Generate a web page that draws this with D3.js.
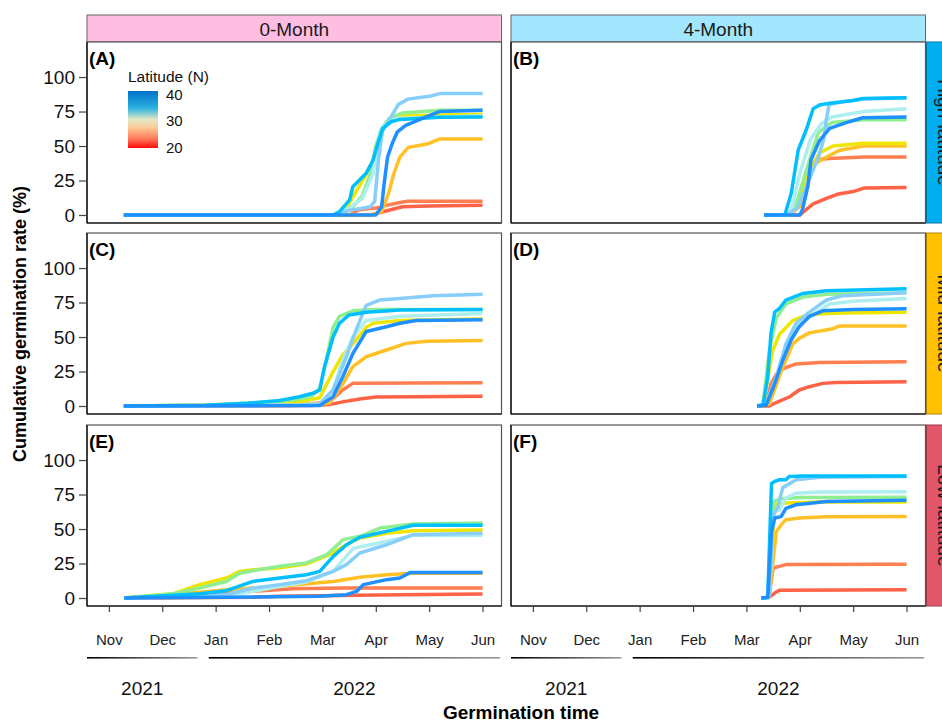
<!DOCTYPE html>
<html>
<head>
<meta charset="utf-8">
<script src="https://cdn.jsdelivr.net/npm/d3@7"></script>
<style>
  body { margin: 0; background: #fff; }
  svg { font-family: "Liberation Sans", Arial, sans-serif; }
</style>
</head>
<body>
<svg id="chart" width="942" height="722"></svg>
<script>
// populations, ordered by latitude (low -> high)
const popColors = ["#FF6347", "#FF7F50", "#FFC125", "#EEE600", "#90EE90", "#AFEEEE", "#87CEFA", "#00BFFF", "#1E90FF"];

// x positions are month index: 0 = Nov 2021 ... 7 = Jun 2022
const months = ["Nov", "Dec", "Jan", "Feb", "Mar", "Apr", "May", "Jun"];
const yTicks = [0, 25, 50, 75, 100];
const years = [
  { label: "2021", from: -0.41, to: 1.66 },
  { label: "2022", from: 1.87, to: 7.33 },
];
const storage = ["0-Month", "4-Month"];
const regions = ["High-latitude", "Mid-latitude", "Low-latitude"];
const regionColors = ["#00AEEF", "#FFC000", "#E2566A"];
const storageColors = ["#FFBDE1", "#A3E7FF"];

// (A) 0-Month, high latitude
const panelA = [
  [[0.28, 0], [4.9, 0], [5.1, 2], [5.3, 4], [5.5, 6], [6.0, 6.5], [7, 7]],
  [[0.28, 0], [4.5, 0], [4.7, 4], [5.0, 5], [5.2, 7], [5.45, 9], [5.6, 10], [7, 10]],
  [[0.28, 0], [4.9, 0], [5.11, 2.4], [5.24, 15.7], [5.33, 29], [5.45, 42], [5.61, 49], [5.96, 51.4], [6.19, 55], [7, 55]],
  [[0.28, 0], [4.3, 0], [4.45, 5], [4.6, 15], [4.8, 28], [4.95, 40], [5.05, 55], [5.15, 65], [5.3, 70], [5.6, 72], [7, 73]],
  [[0.28, 0], [4.35, 0], [4.55, 5], [4.75, 14], [4.9, 30], [5.0, 50], [5.1, 62], [5.25, 70], [5.5, 74], [6.2, 76], [7, 76]],
  [[0.28, 0], [4.2, 0], [4.5, 5], [4.75, 12], [4.95, 30], [5.05, 55], [5.15, 65], [5.4, 70], [7, 72]],
  [[0.28, 0], [4.2, 0], [4.45, 3], [4.9, 6], [4.98, 10], [5.05, 40], [5.12, 60], [5.3, 72], [5.42, 80], [5.6, 84], [6.0, 86], [6.2, 88], [7, 88]],
  [[0.28, 0], [4.2, 0], [4.32, 2.4], [4.51, 10.9], [4.57, 20.5], [4.82, 30.2], [4.95, 39.9], [5.04, 52], [5.13, 62.8], [5.29, 67.6], [5.45, 69.3], [6.19, 70.8], [7, 71]],
  [[0.28, 0], [5.0, 0], [5.11, 6], [5.15, 20.5], [5.22, 42], [5.31, 52], [5.4, 60], [5.56, 65], [5.93, 71], [6.19, 75], [7, 76]],
];

// (B) 4-Month, high latitude
const panelB = [
  [[4.33, 0], [5.0, 0], [5.25, 8], [5.5, 12], [5.7, 15], [6.0, 17], [6.2, 19.5], [7, 20]],
  [[4.33, 0], [4.8, 0], [5.0, 10], [5.12, 30], [5.3, 40], [5.55, 41], [6.2, 42], [7, 42]],
  [[4.33, 0], [4.8, 0], [5.0, 6], [5.12, 20], [5.28, 37], [5.5, 42], [5.75, 47], [6.2, 50], [7, 50]],
  [[4.33, 0], [4.8, 0], [4.95, 8], [5.12, 28], [5.37, 45], [5.62, 50], [6.2, 52], [7, 52]],
  [[4.33, 0], [4.8, 0], [4.95, 10], [5.12, 32], [5.35, 60], [5.6, 67], [6.2, 69], [7, 69]],
  [[4.33, 0], [4.78, 0], [4.85, 5], [5.0, 30], [5.2, 55], [5.4, 66], [5.6, 71], [6.2, 75], [7, 77]],
  [[4.33, 0], [4.75, 0], [4.95, 5], [5.1, 18], [5.22, 30], [5.35, 42], [5.45, 55], [5.5, 70], [5.55, 80], [5.8, 82], [6.2, 84], [7, 85]],
  [[4.33, 0], [4.72, 0], [4.84, 15.7], [4.97, 47], [5.12, 61.6], [5.25, 77], [5.37, 79.7], [5.56, 81], [6.0, 83], [6.18, 84.5], [7, 85]],
  [[4.33, 0], [5.0, 0], [5.05, 4], [5.15, 20.5], [5.21, 40], [5.37, 54], [5.56, 62.8], [5.87, 67], [6.18, 70.5], [7, 71]],
];

// (C) 0-Month, mid latitude
const panelC = [
  [[0.28, 0], [3.8, 0.3], [4.13, 1], [4.38, 3], [4.7, 5], [5.0, 6.5], [7, 7]],
  [[0.28, 0], [3.57, 0.5], [4.13, 3], [4.38, 11.6], [4.57, 16.4], [7, 16.8]],
  [[0.28, 0], [2.5, 0.5], [3.57, 1], [4.13, 2], [4.38, 16], [4.57, 28.5], [4.82, 35.7], [5.2, 40.6], [5.57, 45.4], [5.95, 47], [7, 47.5]],
  [[0.28, 0], [1.8, 0.5], [2.6, 2], [3.2, 2.5], [3.57, 3], [3.95, 6], [4.2, 25], [4.38, 37], [4.57, 45], [4.82, 57], [4.95, 60], [5.45, 62], [7, 63]],
  [[0.28, 0], [1.8, 0.5], [2.6, 2], [3.2, 3.5], [3.57, 5], [3.8, 7], [3.95, 13], [4.07, 33], [4.2, 57], [4.32, 65], [4.57, 69], [5.0, 70], [7, 70]],
  [[0.28, 0], [2.5, 0.3], [3.57, 0.7], [3.95, 1.5], [4.2, 11.6], [4.38, 33], [4.57, 50], [4.82, 62], [5.45, 65], [7, 67]],
  [[0.28, 0], [2.5, 0.3], [3.57, 0.8], [3.95, 1.5], [4.2, 11.6], [4.45, 35.7], [4.63, 55], [4.82, 73], [5.07, 76.8], [5.45, 78], [6.07, 80], [7, 81]],
  [[0.28, 0], [1.8, 0.5], [2.6, 2], [3.2, 4], [3.57, 6.7], [3.82, 9.2], [3.95, 11.6], [4.04, 28.5], [4.2, 50], [4.32, 60], [4.5, 66], [4.82, 68], [5.45, 69.6], [7, 70]],
  [[0.28, 0], [3.95, 0.3], [4.2, 6.7], [4.38, 21], [4.57, 38], [4.82, 54], [5.2, 57.5], [5.45, 60], [5.76, 62], [7, 62.5]],
];

// (D) 4-Month, mid latitude
const panelD = [
  [[4.2, 0], [4.43, 0], [4.56, 2.5], [4.81, 6.7], [4.99, 11.6], [5.18, 14], [5.43, 16.4], [5.68, 17], [7, 17.5]],
  [[4.2, 0], [4.37, 0.5], [4.46, 16], [4.56, 23], [4.68, 27], [4.93, 30.5], [5.37, 31.5], [7, 32]],
  [[4.2, 0], [4.43, 1.5], [4.68, 28], [4.87, 45], [4.99, 49], [5.18, 53], [5.62, 56], [5.75, 58], [7, 58]],
  [[4.2, 0], [4.31, 0], [4.49, 40], [4.62, 52], [4.87, 62], [5.18, 66.5], [5.8, 67.5], [7, 68]],
  [[4.2, 0], [4.31, 1], [4.43, 40], [4.56, 64], [4.74, 74], [5.06, 79], [5.5, 81], [7, 82]],
  [[4.2, 0], [4.37, 1.5], [4.59, 23], [4.74, 40], [4.93, 57], [5.25, 66.5], [5.56, 74], [6.0, 76], [7, 78]],
  [[4.2, 0], [4.37, 1.5], [4.56, 21], [4.74, 45], [4.93, 60], [5.18, 68], [5.5, 76.8], [5.81, 80], [7, 82]],
  [[4.2, 0], [4.31, 0.5], [4.4, 21], [4.46, 52.7], [4.53, 68], [4.62, 70.8], [4.74, 76.8], [5.06, 81.6], [5.5, 83.5], [7, 85]],
  [[4.2, 0], [4.37, 0.5], [4.53, 16], [4.68, 33], [4.84, 48], [4.99, 57.5], [5.18, 65], [5.43, 69], [6.0, 70], [7, 70.5]],
];

// (E) 0-Month, low latitude
const panelE = [
  [[0.29, 0], [2.7, 0.5], [3.2, 1.2], [5.45, 2.4], [7, 2.9]],
  [[0.29, 0], [1.7, 2.4], [2.7, 4.8], [3.45, 6.7], [4.45, 7.2], [7, 7.2]],
  [[0.29, 0], [1.2, 2.4], [2.2, 6], [3.2, 8.5], [4.2, 12], [4.7, 15], [5.2, 16.9], [5.7, 18], [7, 18]],
  [[0.29, 0], [1.2, 3], [1.7, 9.7], [2.2, 14.5], [2.45, 19.3], [2.7, 20.5], [3.2, 22], [3.7, 24.6], [3.95, 28.5], [4.2, 32.6], [4.45, 38.6], [4.7, 43.5], [5.2, 47], [5.7, 48.8], [7, 49.3]],
  [[0.29, 0], [1.2, 3], [1.7, 7.2], [2.2, 12], [2.45, 18], [2.7, 19.8], [3.2, 23], [3.7, 25.4], [4.08, 31.4], [4.39, 42.3], [4.7, 44.7], [5.08, 50.7], [5.7, 53.6], [7, 54.3]],
  [[0.29, 0], [2.2, 1.2], [2.7, 4.8], [3.2, 8.5], [3.7, 11.6], [4.2, 19.3], [4.58, 36], [5.08, 40], [5.7, 45.4], [7, 45.4]],
  [[0.29, 0], [2.2, 2.4], [2.7, 7.2], [3.2, 9.7], [3.7, 12.5], [4.2, 19.3], [4.45, 24.2], [4.7, 32.6], [5.2, 38.6], [5.7, 45.9], [7, 47]],
  [[0.29, 0], [1.7, 3], [2.2, 5.3], [2.7, 12], [3.2, 14.5], [3.7, 16.9], [3.95, 19.3], [4.2, 30], [4.45, 38.6], [4.7, 44], [5.2, 48.3], [5.7, 52.7], [7, 52.7]],
  [[0.29, 0], [3.95, 1.2], [4.45, 2.4], [4.64, 4.8], [4.77, 9.7], [5.2, 13.3], [5.45, 14.5], [5.64, 18.4], [7, 18.4]],
];

// (F) 4-Month, low latitude
const panelF = [
  [[4.28, 0], [4.4, 0], [4.45, 1.2], [4.53, 3.6], [4.62, 5.6], [7, 6]],
  [[4.28, 0], [4.4, 0], [4.43, 2.4], [4.5, 21.7], [4.62, 22.9], [4.74, 24.2], [7, 24.4]],
  [[4.28, 0], [4.4, 0], [4.43, 2.4], [4.56, 48], [4.65, 53], [4.74, 56.8], [4.99, 58], [5.5, 58.9], [7, 59]],
  [[4.28, 0], [4.4, 0], [4.43, 2.4], [4.53, 67.6], [4.74, 68.8], [5.37, 69.6], [7, 69.6]],
  [[4.28, 0], [4.4, 0], [4.43, 2.4], [4.5, 69.5], [4.62, 71.7], [4.99, 72.9], [7, 73]],
  [[4.28, 0], [4.4, 0], [4.43, 2.4], [4.5, 62], [4.62, 64], [4.74, 72.5], [4.93, 76], [5.37, 76.8], [7, 77]],
  [[4.28, 0], [4.4, 0], [4.43, 2.4], [4.5, 60], [4.59, 66], [4.68, 80], [4.77, 82], [4.93, 85.7], [5.37, 87.5], [7, 88]],
  [[4.28, 0], [4.4, 0.5], [4.47, 83], [4.53, 84.5], [4.62, 85.7], [4.74, 85.7], [4.8, 88], [5.06, 88.5], [7, 88.5]],
  [[4.28, 0], [4.4, 0.5], [4.47, 48], [4.53, 58], [4.65, 59], [4.74, 65], [4.93, 67.6], [5.5, 70], [7, 70.8]],
];

const panels = [
  { tag: "(A)", row: 0, col: 0, series: panelA },
  { tag: "(B)", row: 0, col: 1, series: panelB },
  { tag: "(C)", row: 1, col: 0, series: panelC },
  { tag: "(D)", row: 1, col: 1, series: panelD },
  { tag: "(E)", row: 2, col: 0, series: panelE },
  { tag: "(F)", row: 2, col: 1, series: panelF },
];

// layout
const colLeft = [87, 511];
const panelW = 414.5;
const rowTop = [42, 233, 425];
const panelH = 181;
const stripTop = 15;

const svg = d3.select("#chart");

// gradients
const defs = svg.append("defs");
const lg = defs.append("linearGradient").attr("id", "latgrad")
  .attr("x1", 0).attr("y1", 0).attr("x2", 0).attr("y2", 1);
[["0%", "#0070C8"], ["30%", "#2DB2E2"], ["50%", "#E2E8C4"], ["65%", "#FFC896"], ["85%", "#FF7255"], ["100%", "#FF0A0A"]]
  .forEach(([o, c]) => lg.append("stop").attr("offset", o).attr("stop-color", c));
const bg = defs.append("linearGradient").attr("id", "bargrad");
bg.append("stop").attr("offset", "0%").attr("stop-color", "#000");
bg.append("stop").attr("offset", "100%").attr("stop-color", "#999");

const xScale = (col) => d3.scaleLinear().domain([-0.41, 7.355]).range([colLeft[col], colLeft[col] + panelW]);
const yScale = (row) => d3.scaleLinear().domain([-5.8, 125.4]).range([rowTop[row] + panelH, rowTop[row]]);

// top strips
storage.forEach((s, c) => {
  svg.append("rect")
    .attr("x", colLeft[c]).attr("y", stripTop)
    .attr("width", panelW).attr("height", rowTop[0] - stripTop)
    .attr("fill", storageColors[c]).attr("stroke", "#666").attr("stroke-width", 1);
  svg.append("text")
    .attr("x", colLeft[c] + panelW / 2).attr("y", (stripTop + rowTop[0]) / 2 + 1)
    .attr("text-anchor", "middle").attr("dominant-baseline", "central")
    .attr("font-size", 19).attr("fill", "#1a1a1a").text(s);
});

// right strips (text runs past the page edge, as in the original)
regions.forEach((r, i) => {
  const x0 = colLeft[1] + panelW + 1;
  svg.append("rect")
    .attr("x", x0).attr("y", rowTop[i])
    .attr("width", 30).attr("height", panelH)
    .attr("fill", regionColors[i]).attr("stroke", d3.color(regionColors[i]).darker(1)).attr("stroke-width", 1);
  svg.append("text")
    .attr("transform", `translate(${x0 + 18},${rowTop[i] + panelH / 2}) rotate(90)`)
    .attr("text-anchor", "middle").attr("dominant-baseline", "central")
    .attr("font-size", 19).attr("fill", "#1a1a1a").text(r);
});

const line = d3.line();

panels.forEach((p) => {
  const x = xScale(p.col);
  const y = yScale(p.row);
  const g = svg.append("g");

  g.append("rect")
    .attr("x", colLeft[p.col]).attr("y", rowTop[p.row])
    .attr("width", panelW).attr("height", panelH)
    .attr("fill", "#fff").attr("stroke", "#555").attr("stroke-width", 1.2);

  p.series.forEach((pts, i) => {
    g.append("path")
      .attr("d", line(pts.map((d) => [x(d[0]), y(d[1])])))
      .attr("fill", "none")
      .attr("stroke", popColors[i])
      .attr("stroke-width", 3.5)
      .attr("stroke-linejoin", "round");
  });

  // black axis lines on left / bottom
  g.append("line")
    .attr("x1", colLeft[p.col]).attr("x2", colLeft[p.col])
    .attr("y1", rowTop[p.row]).attr("y2", rowTop[p.row] + panelH)
    .attr("stroke", "#000").attr("stroke-width", 1.2);
  g.append("line")
    .attr("x1", colLeft[p.col]).attr("x2", colLeft[p.col] + panelW)
    .attr("y1", rowTop[p.row] + panelH).attr("y2", rowTop[p.row] + panelH)
    .attr("stroke", "#000").attr("stroke-width", 1.2);

  g.append("text")
    .attr("x", colLeft[p.col] + 2).attr("y", rowTop[p.row] + 23)
    .attr("font-size", 19).attr("font-weight", "bold").attr("fill", "#000")
    .text(p.tag);

  // y axis on left column
  if (p.col === 0) {
    const ax = svg.append("g")
      .attr("transform", `translate(${colLeft[0]},0)`)
      .call(d3.axisLeft(y).tickValues(yTicks).tickSize(8).tickPadding(4));
    ax.select(".domain").remove();
    ax.selectAll(".tick line").attr("stroke", "#444").attr("stroke-width", 1.2);
    ax.selectAll(".tick text").attr("font-size", 19).attr("fill", "#111")
      .attr("font-family", "Liberation Sans, Arial, sans-serif");
  }

  // x axis on bottom row
  if (p.row === 2) {
    const ax = svg.append("g")
      .attr("transform", `translate(0,${rowTop[2] + panelH})`)
      .call(d3.axisBottom(x).tickValues(d3.range(months.length)).tickFormat((i) => months[i]).tickSize(6).tickPadding(22));
    ax.select(".domain").remove();
    ax.selectAll(".tick line").attr("stroke", "#444").attr("stroke-width", 1.2);
    ax.selectAll(".tick text").attr("font-size", 15).attr("fill", "#222")
      .attr("font-family", "Liberation Sans, Arial, sans-serif");

    years.forEach((yr) => {
      svg.append("rect")
        .attr("x", x(yr.from)).attr("y", 657)
        .attr("width", x(yr.to) - x(yr.from)).attr("height", 1.6)
        .attr("fill", "url(#bargrad)");
      svg.append("text")
        .attr("x", (x(yr.from) + x(yr.to)) / 2 + (yr.label === "2021" ? 0 : 0)).attr("y", 688)
        .attr("text-anchor", "middle").attr("dominant-baseline", "central")
        .attr("font-size", 19).attr("fill", "#111").text(yr.label);
    });
  }
});

// legend inside panel A
const leg = svg.append("g");
leg.append("text").attr("x", 128).attr("y", 76).attr("dominant-baseline", "central")
  .attr("font-size", 15.5).attr("fill", "#111").text("Latitude (N)");
leg.append("rect").attr("x", 128).attr("y", 91).attr("width", 30).attr("height", 57)
  .attr("fill", "url(#latgrad)");
const legScale = d3.scaleLinear().domain([20, 40]).range([147, 94]);
[40, 30, 20].forEach((v) => {
  leg.append("text").attr("x", 166).attr("y", legScale(v)).attr("dominant-baseline", "central")
    .attr("font-size", 15).attr("fill", "#111").text(v);
});

// axis titles
svg.append("text")
  .attr("transform", `translate(20,${(rowTop[0] + rowTop[2] + panelH) / 2}) rotate(-90)`)
  .attr("text-anchor", "middle").attr("dominant-baseline", "central")
  .attr("font-size", 18).attr("font-weight", "bold").attr("fill", "#000")
  .text("Cumulative germination rate (%)");
svg.append("text")
  .attr("x", 521).attr("y", 712)
  .attr("text-anchor", "middle").attr("dominant-baseline", "central")
  .attr("font-size", 19).attr("font-weight", "bold").attr("fill", "#000")
  .text("Germination time");
</script>
</body>
</html>
